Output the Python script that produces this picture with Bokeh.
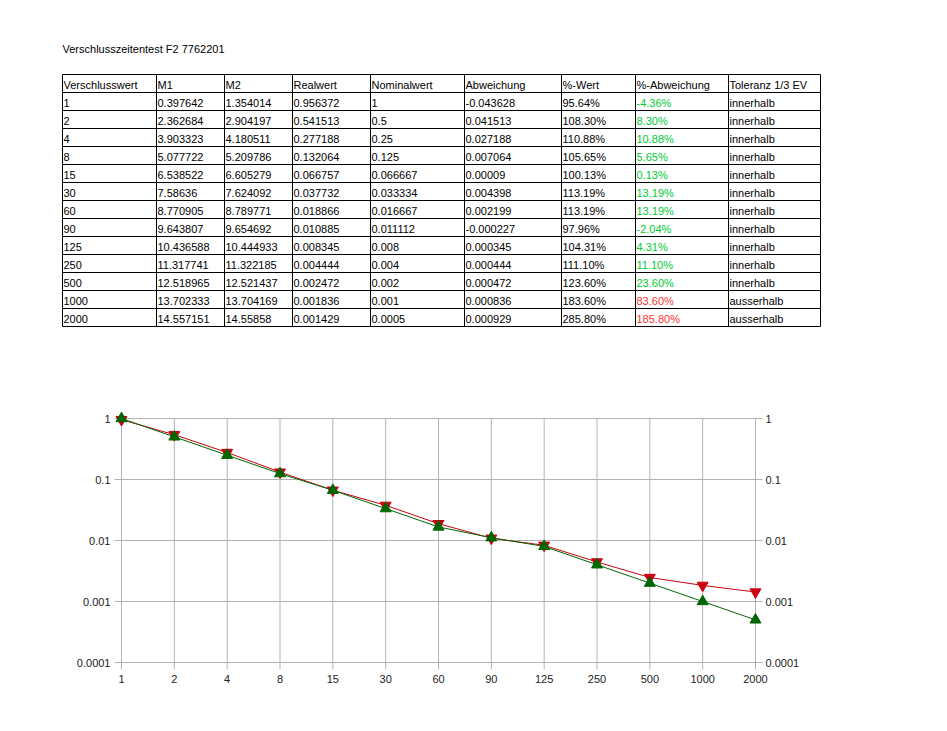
from bokeh.plotting import figure
from bokeh.models import Range1d, FixedTicker, LogAxis
from bokeh.core.properties import value
from bokeh.embed import file_html
from bokeh.resources import INLINE

# ---------------- data ----------------
title = "Verschlusszeitentest F2 7762201"
headers = ["Verschlusswert", "M1", "M2", "Realwert", "Nominalwert",
           "Abweichung", "%-Wert", "%-Abweichung", "Toleranz 1/3 EV"]
verschlusswert = ["1", "2", "4", "8", "15", "30", "60", "90", "125", "250", "500", "1000", "2000"]
m1 = ["0.397642", "2.362684", "3.903323", "5.077722", "6.538522", "7.58636", "8.770905",
      "9.643807", "10.436588", "11.317741", "12.518965", "13.702333", "14.557151"]
m2 = ["1.354014", "2.904197", "4.180511", "5.209786", "6.605279", "7.624092", "8.789771",
      "9.654692", "10.444933", "11.322185", "12.521437", "13.704169", "14.55858"]
realwert = ["0.956372", "0.541513", "0.277188", "0.132064", "0.066757", "0.037732", "0.018866",
            "0.010885", "0.008345", "0.004444", "0.002472", "0.001836", "0.001429"]
nominalwert = ["1", "0.5", "0.25", "0.125", "0.066667", "0.033334", "0.016667",
               "0.011112", "0.008", "0.004", "0.002", "0.001", "0.0005"]
abweichung = ["-0.043628", "0.041513", "0.027188", "0.007064", "0.00009", "0.004398", "0.002199",
              "-0.000227", "0.000345", "0.000444", "0.000472", "0.000836", "0.000929"]
prozent_wert = ["95.64%", "108.30%", "110.88%", "105.65%", "100.13%", "113.19%", "113.19%",
                "97.96%", "104.31%", "111.10%", "123.60%", "183.60%", "285.80%"]
prozent_abw = ["-4.36%", "8.30%", "10.88%", "5.65%", "0.13%", "13.19%", "13.19%",
               "-2.04%", "4.31%", "11.10%", "23.60%", "83.60%", "185.80%"]
toleranz = ["innerhalb"] * 11 + ["ausserhalb"] * 2

y_ticks = [0.0001, 0.001, 0.01, 0.1, 1]
y_tick_labels = ["0.0001", "0.001", "0.01", "0.1", "1"]

real_vals = [float(v) for v in realwert]
nominal_vals = [float(v) for v in nominalwert]

FONT = "Liberation Sans"
W = 947

# ---------------- table figure ----------------
TH = 340
t = figure(width=W, height=TH, x_range=Range1d(0, W), y_range=Range1d(TH, 0),
           output_backend="svg", toolbar_location=None, min_border=0,
           x_axis_location=None, y_axis_location=None)
t.grid.visible = False
t.outline_line_color = None

col_edges = [62, 156, 224, 292, 370, 464, 561, 635, 728, 820]
row_top = 74
row_h = 18
n_rows = len(verschlusswert) + 1

t.text(x=[62], y=[48], text=[title], text_font=value(FONT), text_font_size="11px",
       text_baseline="middle", text_align="left", text_color="#000000")

columns = [verschlusswert, m1, m2, realwert, nominalwert, abweichung, prozent_wert, prozent_abw, toleranz]
xs, ys, txt, cols = [], [], [], []
for ci, h in enumerate(headers):
    xs.append(col_edges[ci] + 1); ys.append(row_top + row_h / 2 + 1); txt.append(h); cols.append("#000000")
for ci, colvals in enumerate(columns):
    for ri, v in enumerate(colvals):
        xs.append(col_edges[ci] + 1)
        ys.append(row_top + (ri + 1) * row_h + row_h / 2 + 1)
        txt.append(v)
        if ci == 7:
            cols.append("#00cc33" if toleranz[ri] == "innerhalb" else "#ff3333")
        else:
            cols.append("#000000")
t.text(x=xs, y=ys, text=txt, text_color=cols, text_font=value(FONT), text_font_size="11px",
       text_baseline="middle", text_align="left")

hy = [row_top + r * row_h for r in range(n_rows + 1)]
t.segment(x0=[col_edges[0]] * len(hy), x1=[col_edges[-1]] * len(hy), y0=hy, y1=hy,
          line_color="#000000", line_width=1)
t.segment(x0=col_edges, x1=col_edges, y0=[row_top] * len(col_edges),
          y1=[row_top + n_rows * row_h] * len(col_edges), line_color="#000000", line_width=1)

# ---------------- chart figure ----------------
CH = 391
n = len(verschlusswert)
xi = list(range(n))
px_per_cat = 52.83
px_per_dec = 61.0
pad_x = 9 / px_per_cat
top = 10 ** (10 / px_per_dec)
bottom = 10 ** (-4 - 8 / px_per_dec)

p = figure(width=W, height=CH, y_axis_type="log",
           x_range=Range1d(-pad_x, n - 1 + pad_x), y_range=Range1d(bottom, top),
           output_backend="svg", toolbar_location=None,
           min_border_left=112, min_border_right=183, min_border_top=68, min_border_bottom=61)
p.grid.visible = False
p.outline_line_color = None

grid_col = "#b3b3b3"
tick_len_x = 7 / px_per_cat
tick_y = 10 ** (-4 - 7 / px_per_dec)
p.segment(x0=[-tick_len_x] * len(y_ticks), x1=[n - 1 + tick_len_x] * len(y_ticks),
          y0=y_ticks, y1=y_ticks, line_color=grid_col, line_width=1)
p.segment(x0=xi, x1=xi, y0=[tick_y] * n, y1=[1] * n, line_color=grid_col, line_width=1)

red = "#cc0011"
green = "#006600"
p.line(xi, real_vals, line_color=red, line_width=1)
p.scatter(xi, real_vals, marker="inverted_triangle", size=11, fill_color=red, line_color=red)
p.line(xi, nominal_vals, line_color=green, line_width=1)
p.scatter(xi, nominal_vals, marker="triangle", size=11, fill_color=green, line_color=green)

xa = p.xaxis[0]
xa.ticker = FixedTicker(ticks=xi)
xa.major_label_overrides = {i: v for i, v in zip(xi, verschlusswert)}

ya = p.yaxis[0]
ya.ticker = FixedTicker(ticks=y_ticks)
ya.major_label_overrides = {tv: tl for tv, tl in zip(y_ticks, y_tick_labels)}

ra = LogAxis(ticker=FixedTicker(ticks=y_ticks),
             major_label_overrides={tv: tl for tv, tl in zip(y_ticks, y_tick_labels)})
p.add_layout(ra, "right")

for ax in [xa, ya, ra]:
    ax.axis_line_color = None
    ax.major_tick_line_color = None
    ax.minor_tick_line_color = None
    ax.major_tick_in = 0
    ax.major_tick_out = 0
    ax.minor_tick_in = 0
    ax.minor_tick_out = 0
    ax.major_label_text_font = FONT
    ax.major_label_text_font_size = "11px"
    ax.major_label_text_color = "#222222"
xa.major_label_standoff = 4
ya.major_label_standoff = 2
ra.major_label_standoff = 1

open("out.html", "w").write(file_html([t, p], INLINE))
